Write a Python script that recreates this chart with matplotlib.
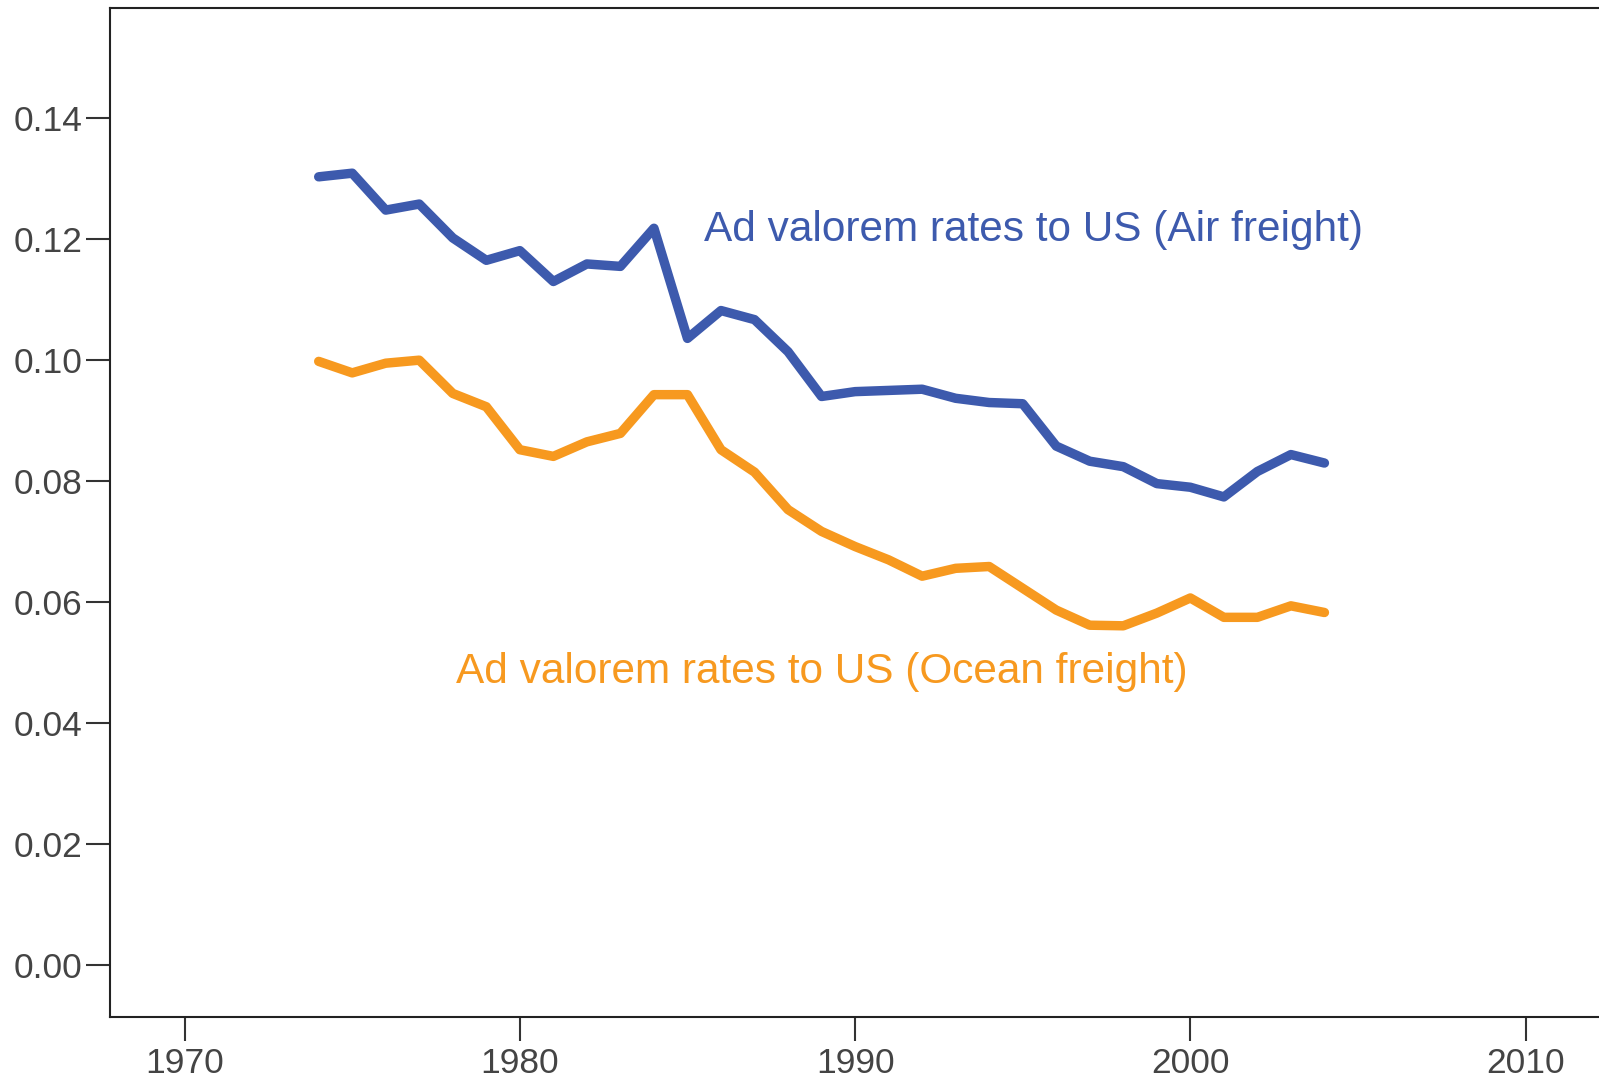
import matplotlib
matplotlib.use("Agg")
import matplotlib.pyplot as plt

years = list(range(1974, 2005))
air = [0.1303, 0.1309, 0.1248, 0.1258, 0.1202, 0.1165, 0.1181, 0.1130, 0.1159, 0.1155,
       0.1218, 0.1036, 0.1082, 0.1067, 0.1014, 0.0940, 0.0948, 0.0950, 0.0952, 0.0937,
       0.0930, 0.0928, 0.0858, 0.0833, 0.0824, 0.0796, 0.0790, 0.0774, 0.0816, 0.0844,
       0.0830]
ocean = [0.0998, 0.0979, 0.0995, 0.1000, 0.0945, 0.0923, 0.0852, 0.0841, 0.0865, 0.0879,
         0.0943, 0.0943, 0.0852, 0.0815, 0.0753, 0.0717, 0.0692, 0.0670, 0.0643, 0.0656,
         0.0659, 0.0623, 0.0587, 0.0562, 0.0561, 0.0582, 0.0607, 0.0575, 0.0575, 0.0594,
         0.0583]
xticks = [1970, 1980, 1990, 2000, 2010]
yticks = [0.00, 0.02, 0.04, 0.06, 0.08, 0.10, 0.12, 0.14]
air_label = "Ad valorem rates to US (Air freight)"
ocean_label = "Ad valorem rates to US (Ocean freight)"

BLUE = "#3D5AAD"
ORANGE = "#F7991F"

plt.rcParams['font.family'] = ['Liberation Sans', 'DejaVu Sans']

fig = plt.figure(figsize=(15.99, 10.81), dpi=100)
ax = fig.add_axes([110/1599, 1 - 1016.7/1081, 1 - 110/1599, (1016.7 - 8)/1081])

ax.plot(years, air, color=BLUE, lw=6.8, solid_capstyle='round', solid_joinstyle='round')
ax.plot(years, ocean, color=ORANGE, lw=6.8, solid_capstyle='round', solid_joinstyle='round')

ax.set_xlim(1967.775, 2012.19)
ax.set_ylim(-0.0085, 0.1582)
ax.set_xticks(xticks)
ax.set_xticklabels([str(t) for t in xticks])
ax.set_yticks(yticks)
ax.set_yticklabels([f"{t:.2f}" for t in yticks])

ax.spines['right'].set_visible(False)
for s in ['left', 'bottom', 'top']:
    ax.spines[s].set_linewidth(1.5)
    ax.spines[s].set_color('#222222')

ax.tick_params(axis='both', direction='out', length=17, width=1.5, color='#333333',
               labelsize=25.5, labelcolor='#444444')
ax.tick_params(axis='y', pad=3)
ax.tick_params(axis='x', pad=5)

ax.text(1985.48, 0.1215, air_label, color=BLUE, fontsize=30.5, va='center', ha='left')
ax.text(1978.1, 0.0485, ocean_label, color=ORANGE, fontsize=30.5, va='center', ha='left')

fig.savefig("out.png", dpi=100)
